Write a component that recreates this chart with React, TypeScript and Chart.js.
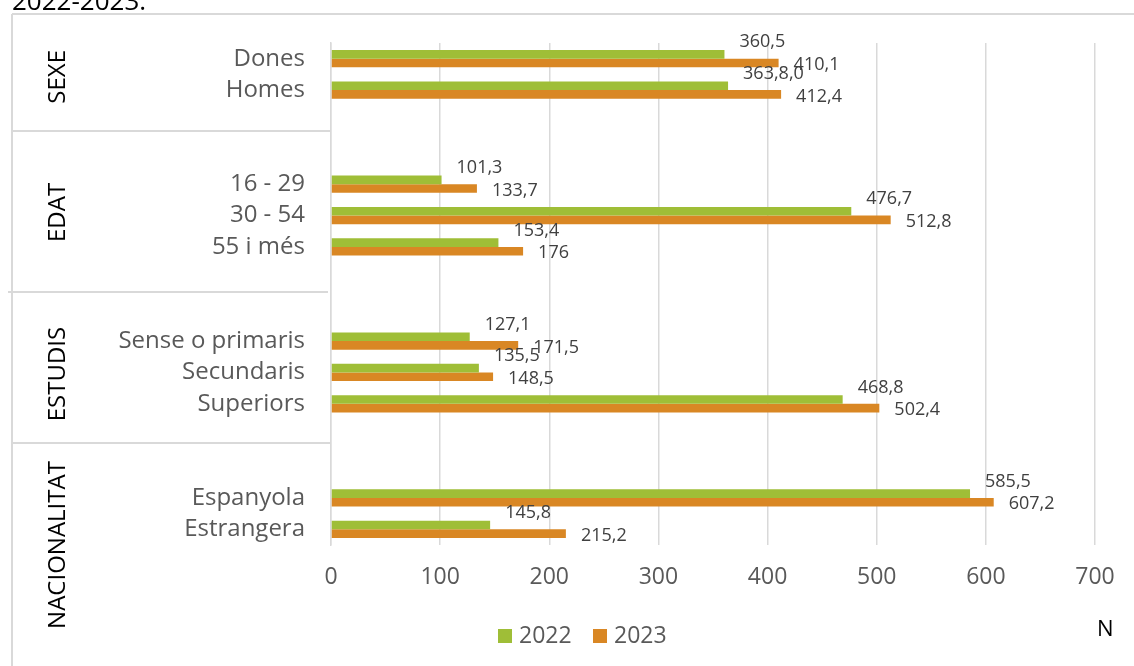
import { useEffect, useRef } from "react";
import { Chart, registerables } from "chart.js";

Chart.register(...registerables);

// ---- data ----
const categories = [
  "Dones", "Homes", "", "",
  "16 - 29", "30 - 54", "55 i més", "", "",
  "Sense o primaris", "Secundaris", "Superiors", "", "",
  "Espanyola", "Estrangera",
];
const values2022 = [360.5, 363.8, null, null, 101.3, 476.7, 153.4, null, null, 127.1, 135.5, 468.8, null, null, 585.5, 145.8];
const values2023 = [410.1, 412.4, null, null, 133.7, 512.8, 176, null, null, 171.5, 148.5, 502.4, null, null, 607.2, 215.2];
const labels2022 = ["360,5", "363,8,0", "", "", "101,3", "476,7", "153,4", "", "", "127,1", "135,5", "468,8", "", "", "585,5", "145,8"];
const labels2023 = ["410,1", "412,4", "", "", "133,7", "512,8", "176", "", "", "171,5", "148,5", "502,4", "", "", "607,2", "215,2"];
const seriesNames = ["2022", "2023"];
const groupNames = ["SEXE", "EDAT", "ESTUDIS", "NACIONALITAT"];
const xTickMin = 0;
const xTickMax = 700;
const xTickStep = 100;
const caption = "2022-2023.";
const unitLabel = "N";

// ---- styling / layout (not data) ----
const GREEN = "#9FBE37";
const ORANGE = "#D98724";
const GRID = "#d9d9d9";
const FONT = "'Open Sans', 'Noto Sans', sans-serif";
const groupCenters = [0.58, 4.9, 10.05, 15.5];
const separatorIdx = [2.3, 7.43, 12.24];
const dataLabelSets = [labels2022, labels2023];
const labelDy = [-12, 2];

const decorPlugin = {
  id: "decor",
  beforeDraw(chart: any) {
    const { ctx, width, height } = chart;
    ctx.save();
    ctx.fillStyle = "#ffffff";
    ctx.fillRect(0, 0, width, height);
    ctx.restore();
  },
  afterDatasetsDraw(chart: any) {
    const { ctx } = chart;
    ctx.save();
    ctx.font = `18px ${FONT}`;
    ctx.fillStyle = "#404040";
    ctx.textAlign = "left";
    ctx.textBaseline = "middle";
    chart.data.datasets.forEach((ds: any, di: number) => {
      const meta = chart.getDatasetMeta(di);
      meta.data.forEach((el: any, i: number) => {
        const txt = dataLabelSets[di][i];
        if (ds.data[i] == null || !txt) return;
        ctx.fillText(txt, el.x + 15, el.y + labelDy[di]);
      });
    });
    ctx.restore();
  },
  afterDraw(chart: any) {
    const { ctx, chartArea, width, height } = chart;
    const y = chart.scales.y;
    ctx.save();
    // caption (cut off at top)
    ctx.font = `26px ${FONT}`;
    ctx.fillStyle = "#000";
    ctx.textAlign = "left";
    ctx.textBaseline = "alphabetic";
    ctx.fillText(caption, 12, 9.5);

    // borders
    ctx.strokeStyle = GRID;
    ctx.lineWidth = 2;
    ctx.beginPath();
    ctx.moveTo(12, 14);
    ctx.lineTo(width, 14);
    ctx.moveTo(12, 14);
    ctx.lineTo(12, height);
    separatorIdx.forEach((v, k) => {
      const py = Math.round(y.getPixelForValue(v));
      ctx.moveTo(k === 1 ? 8 : 12, py);
      ctx.lineTo(chartArea.left - (k === 1 ? 3 : 0), py);
    });
    ctx.stroke();

    // group labels
    ctx.font = `24px ${FONT}`;
    ctx.fillStyle = "#000";
    ctx.textAlign = "center";
    ctx.textBaseline = "middle";
    groupNames.forEach((g, k) => {
      const py = y.getPixelForValue(groupCenters[k]);
      ctx.save();
      ctx.translate(58, py);
      ctx.rotate(-Math.PI / 2);
      ctx.fillText(g, 0, 0);
      ctx.restore();
    });

    // legend
    const colors = [GREEN, ORANGE];
    let lx = 498;
    const ly = 636;
    ctx.font = `23px ${FONT}`;
    ctx.textAlign = "left";
    chart.data.datasets.forEach((ds: any, di: number) => {
      ctx.fillStyle = colors[di];
      ctx.fillRect(lx, ly - 7, 14, 14);
      ctx.fillStyle = "#595959";
      ctx.fillText(ds.label, lx + 21, ly);
      lx += 95;
    });

    // unit
    ctx.fillStyle = "#000";
    ctx.font = `22px ${FONT}`;
    ctx.fillText(unitLabel, 1097, 630);
    ctx.restore();
  },
};

export default function App() {
  const ref = useRef<HTMLCanvasElement | null>(null);
  useEffect(() => {
    if (!ref.current) return;
    const chart = new Chart(ref.current, {
      type: "bar",
      data: {
        labels: categories,
        datasets: [
          { label: seriesNames[0], data: values2022, backgroundColor: GREEN, borderWidth: 0 },
          { label: seriesNames[1], data: values2023, backgroundColor: ORANGE, borderWidth: 0 },
        ],
      },
      options: {
        indexAxis: "y",
        responsive: false,
        animation: false,
        devicePixelRatio: 1,
        layout: { padding: { top: 43, right: 39, left: 0, bottom: 0 } },
        datasets: { bar: { categoryPercentage: 0.55, barPercentage: 1 } },
        plugins: { legend: { display: false }, tooltip: { enabled: false } },
        scales: {
          x: {
            min: xTickMin,
            max: xTickMax,
            ticks: { stepSize: xTickStep, color: "#595959", font: { family: FONT, size: 23 }, padding: 19 },
            grid: { color: GRID, lineWidth: 1.5, drawTicks: false },
            border: { display: false },
            afterFit: (s: any) => { s.height = 121; },
          },
          y: {
            ticks: { color: "#595959", font: { family: FONT, size: 24 }, padding: 26, autoSkip: false },
            grid: { display: false, drawTicks: false },
            border: { display: true, color: GRID, width: 1.5 },
            afterFit: (s: any) => { s.width = 331; },
          },
        },
      } as any,
      plugins: [decorPlugin],
    });
    return () => chart.destroy();
  }, []);
  return (
    <div style={{ position: "absolute", left: 0, top: 0, width: 1134, height: 666 }}>
      <canvas ref={ref} width={1134} height={666} style={{ display: "block" }} />
    </div>
  );
}
